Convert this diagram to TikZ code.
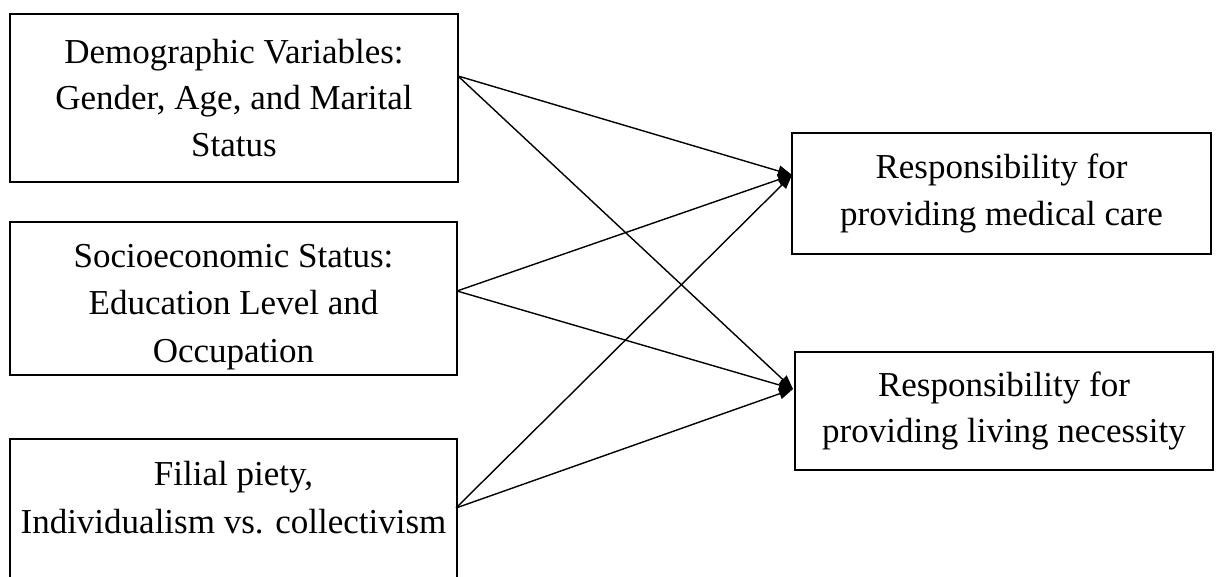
\documentclass[tikz,border=0pt]{standalone}
\usepackage{fontspec}
\setmainfont{Liberation Serif}
\usetikzlibrary{arrows.meta}
\begin{document}
\begin{tikzpicture}[x=1pt,y=-1pt,
  boxstyle/.style={draw,line width=1.5pt,align=center,inner sep=0pt,
    font=\fontsize{35}{46.5}\selectfont},
  txtstyle/.style={align=center,inner sep=0pt,font=\fontsize{35}{48.5}\selectfont},
  conn/.style={line width=1.4pt,-{Triangle[length=14pt,width=11pt]}}]
\useasboundingbox (0,0) rectangle (1218,577);
\node[boxstyle,minimum width=448pt,minimum height=168pt] (b1) at (234,98)
  {Demographic Variables:\\Gender, Age, and Marital\\Status};
\node[boxstyle,minimum width=447pt,minimum height=153pt] (b2) at (233.5,298.5) {};
\node[txtstyle,font=\fontsize{35}{47.5}\selectfont] (b2t) at (233.5,307)
  {Socioeconomic Status:\\Education Level and\\Occupation};
\node[txtstyle] (b3) at (233.5,497.5) {Filial piety,\\Individualism vs. collectivism};
\draw[line width=1.5pt] (10,600) |- (457,439) -- (457,600);
\node[boxstyle,minimum width=419pt,minimum height=121pt] (r1) at (1001.5,193.5)
  {Responsibility for\\providing medical care};
\node[boxstyle,minimum width=418pt,minimum height=118pt] (r2) at (1004,411)
  {Responsibility for\\providing living necessity};
\coordinate (s1) at (458,76);
\coordinate (s2) at (457,291);
\coordinate (s3) at (456,508);
\coordinate (t1) at (792,175);
\coordinate (t2) at (793,389);
\draw[conn] (s1) -- (t1);
\draw[conn] (s1) -- (t2);
\draw[conn] (s2) -- (t1);
\draw[conn] (s2) -- (t2);
\draw[conn] (s3) -- (t1);
\draw[conn] (s3) -- (t2);
\end{tikzpicture}
\end{document}
